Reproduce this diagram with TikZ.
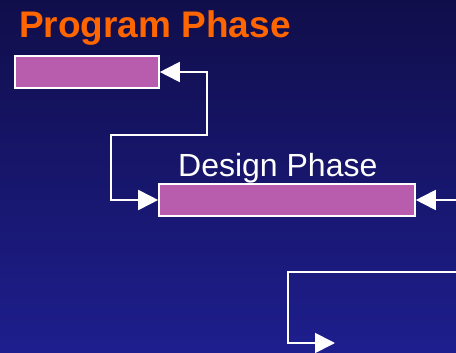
\documentclass[tikz,border=0pt]{standalone}
\usepackage{fontspec}
\setmainfont{Liberation Sans}
\usetikzlibrary{arrows.meta}

\tikzset{
  phasebar/.style={draw=white,line width=1.6pt,fill={rgb,255:red,184;green,92;blue,173},inner sep=0pt,minimum height=32pt},
  link/.style={white,line width=1.8pt,-{Triangle[length=20pt,width=20pt]}},
}

\begin{document}
\begin{tikzpicture}[x=1pt,y=-1pt]
        \shade[top color={rgb,255:red,16;green,14;blue,74},bottom color={rgb,255:red,30;green,30;blue,142}] (0,0) rectangle (456,353);
        \clip (0,0) rectangle (456,353);
        \node[anchor=base west,inner sep=0pt,text={rgb,255:red,255;green,102;blue,0},font=\bfseries\fontsize{37}{40}\selectfont] (title) at (19,38) {Program Phase};
        \node[phasebar,minimum width=144pt] (program) at (87,72) {};
        \node[phasebar,minimum width=256pt] (design) at (287,200) {};
        \node[anchor=base west,inner sep=0pt,text=white,font=\fontsize{32}{36}\selectfont] (designlbl) at (178,176) {Design Phase};
        % free ends at the border
        \coordinate (inright) at (457,200);
        \coordinate (lowright) at (457,272);
        \coordinate (lowend) at (335,343);
        \draw[link,{Triangle[length=20pt,width=20pt]}-{Triangle[length=20pt,width=20pt]}] (program.east) -- (207,72) -- (207,135) -- (111,135) -- (111,200) -- (design.west);
        \draw[link] (inright) -- (design.east);
        \draw[link] (lowright) -- (288,272) -- (288,343) -- (lowend);
      \end{tikzpicture}
\end{document}
